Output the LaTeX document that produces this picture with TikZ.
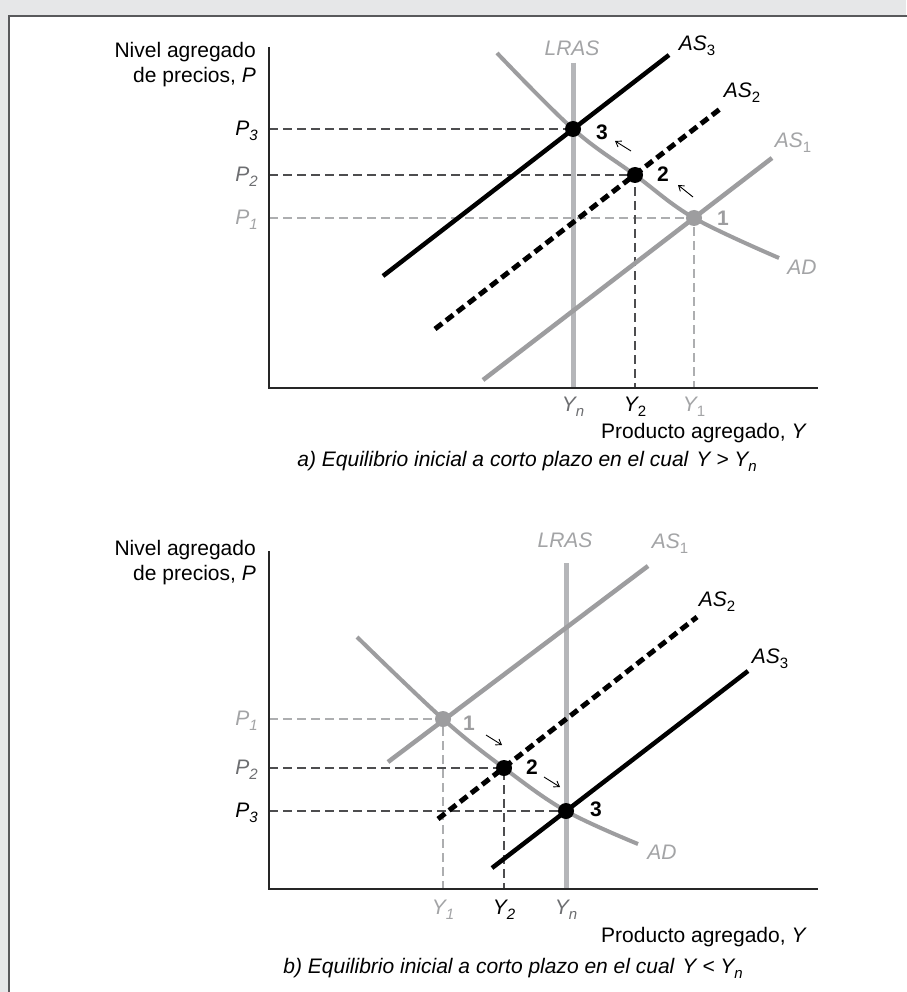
\documentclass[tikz,border=0pt]{standalone}
\usepackage{fontspec}
\setmainfont{Liberation Sans}
\usetikzlibrary{arrows.meta}
\definecolor{bggray}{HTML}{E6E7E8}
\definecolor{framecol}{HTML}{58595B}
\definecolor{lrascol}{HTML}{B5B6B9}
\definecolor{curvegray}{HTML}{9D9D9F}
\definecolor{lightlab}{HTML}{A3A4A6}
\definecolor{midlab}{HTML}{6D6E71}
\definecolor{darkguide}{HTML}{4D4D4F}
\definecolor{lightguide}{HTML}{ADAEB0}
\newcommand{\mysub}[1]{\raisebox{-5pt}{\fontsize{15}{15}\selectfont #1}}
\newcommand{\mysubup}[1]{\raisebox{-5pt}{\fontsize{15}{15}\selectfont\upshape #1}}
\tikzset{
  axisline/.style={draw=black!85, line width=1.6},
  guidedark/.style={draw=darkguide, line width=1.1, dash pattern=on 9 off 5},
  guidelight/.style={draw=lightguide, line width=1.1, dash pattern=on 9 off 5},
  lrasline/.style={draw=lrascol, line width=5},
  adline/.style={draw=curvegray, line width=4},
  asone/.style={draw=curvegray, line width=4.5},
  astwo/.style={draw=black, line width=5, dash pattern=on 9 off 5},
  asthree/.style={draw=black, line width=4.5},
  eqdot/.style={circle, fill=black, inner sep=0pt, minimum size=16},
  eqdotgray/.style={circle, fill=curvegray, inner sep=0pt, minimum size=16},
  smallarrow/.style={draw=black, line width=0.9, -{Straight Barb[length=5,width=7]}},
  lab/.style={inner sep=0pt, font=\fontsize{21}{25}\selectfont\itshape},
  numlab/.style={inner sep=0pt, font=\fontsize{21}{25}\selectfont\bfseries},
  plain/.style={inner sep=0pt, font=\fontsize{21}{25}\selectfont},
}
\begin{document}
\begin{tikzpicture}[x=1pt,y=-1pt]
\useasboundingbox (0,0) rectangle (906,992);
\fill[bggray] (0,0) rectangle (906,992);
\fill[white] (9,16) rectangle (906,992);
\draw[framecol, line width=2] (9,993) -- (9,16) -- (907,16);

% ================= Panel (a) =================
\coordinate (aTop) at (269,47);
\coordinate (aO) at (269,388);
\coordinate (aEnd) at (818,388);
\coordinate (a3) at (573,129);
\coordinate (a2) at (635,175);
\coordinate (a1) at (694,218);
\coordinate (aP3) at (269,129);
\coordinate (aP2) at (269,175);
\coordinate (aP1) at (269,218);
\coordinate (aY2) at (635,388);
\coordinate (aY1) at (694,388);
\coordinate (aLtop) at (573,63);
\coordinate (aLbot) at (573,388);

\draw[guidelight] (aP1) -- (a1) -- (aY1);
\draw[guidedark] (aP2) -- (a2) -- (aY2);
\draw[guidedark] (aP3) -- (a3);
\draw[lrasline] (aLtop) -- (aLbot);
\draw[adline] plot[smooth, tension=0.6] coordinates {(497,53) (573,129) (635,175) (694,218) (779,258)};
\coordinate (aS1a) at (483,380); \coordinate (aS1b) at (772,158);
\coordinate (aS2a) at (435,329); \coordinate (aS2b) at (720,109);
\coordinate (aS3a) at (383,276); \coordinate (aS3b) at (669,55);
\draw[asone] (aS1a) -- (aS1b);
\draw[astwo] (aS2a) -- (aS2b);
\draw[asthree] (aS3a) -- (aS3b);
\draw[axisline] (aTop) -- (aO) -- (aEnd);
\node[eqdot] (d3a) at (a3) {};
\node[eqdot] (d2a) at (a2) {};
\node[eqdotgray] (d1a) at (a1) {};

\coordinate (aArr3s) at (631,151); \coordinate (aArr3e) at (615,141);
\coordinate (aArr2s) at (693,197); \coordinate (aArr2e) at (678,185);
\draw[smallarrow] (aArr3s) -- (aArr3e);
\draw[smallarrow] (aArr2s) -- (aArr2e);

\node[numlab] (n3a) at (602,132) {3};
\node[numlab] (n2a) at (663,174) {2};
\node[numlab, text=curvegray] (n1a) at (723,218) {1};

\node[lab, text=lightlab] (lrasa) at (572,48) {LRAS};
\node[lab] (as3a) at (697,46) {AS\mysubup{3}};
\node[lab] (as2a) at (742,93) {AS\mysubup{2}};
\node[lab, text=lightlab] (as1a) at (793,143) {AS\mysubup{1}};
\node[lab, text=lightlab] (ada) at (802,267) {AD};

\node[lab, anchor=east] (p3a) at (258,131) {P\mysub{3}};
\node[lab, anchor=east, text=midlab] (p2a) at (258,177) {P\mysub{2}};
\node[lab, anchor=east, text=lightlab] (p1a) at (258,220) {P\mysub{1}};

\node[lab, text=midlab] (yna) at (573,407) {Y\mysub{n}};
\node[lab] (y2a) at (635,407) {Y\mysubup{2}};
\node[lab, text=lightlab] (y1a) at (694,407) {Y\mysubup{1}};

\node[plain, anchor=east, align=right] (nivela) at (256,64.5) {Nivel agregado\\de precios, \textit{P}};
\node[plain, anchor=east] (proda) at (807,433) {Producto agregado, \textit{Y}};
\node[lab, anchor=east] (capa) at (757,461) {a) Equilibrio inicial a corto plazo en el cual\hspace{8pt}Y {>} Y\mysub{n}};

% ================= Panel (b) =================
\coordinate (bTop) at (269,551);
\coordinate (bO) at (269,889);
\coordinate (bEnd) at (818,889);
\coordinate (b1) at (443,719);
\coordinate (b2) at (504,768);
\coordinate (b3) at (566,811);
\coordinate (bP1) at (269,719);
\coordinate (bP2) at (269,768);
\coordinate (bP3) at (269,811);
\coordinate (bY1) at (443,889);
\coordinate (bY2) at (504,889);
\coordinate (bLtop) at (566,563);
\coordinate (bLbot) at (566,889);

\draw[guidelight] (bP1) -- (b1) -- (bY1);
\draw[guidedark] (bP2) -- (b2) -- (bY2);
\draw[guidedark] (bP3) -- (b3);
\draw[lrasline] (bLtop) -- (bLbot);
\draw[adline] plot[smooth, tension=0.6] coordinates {(357,637) (443,719) (504,768) (566,811) (638,844)};
\coordinate (bS1a) at (388,762); \coordinate (bS1b) at (648,566);
\coordinate (bS2a) at (438,819); \coordinate (bS2b) at (697,617);
\coordinate (bS3a) at (492,868); \coordinate (bS3b) at (748,671);
\draw[asone] (bS1a) -- (bS1b);
\draw[astwo] (bS2a) -- (bS2b);
\draw[asthree] (bS3a) -- (bS3b);
\draw[axisline] (bTop) -- (bO) -- (bEnd);
\node[eqdotgray] (d1b) at (b1) {};
\node[eqdot] (d2b) at (b2) {};
\node[eqdot] (d3b) at (b3) {};

\coordinate (bArr1s) at (486,735); \coordinate (bArr1e) at (502,745);
\coordinate (bArr2s) at (544,777); \coordinate (bArr2e) at (560,787);
\draw[smallarrow] (bArr1s) -- (bArr1e);
\draw[smallarrow] (bArr2s) -- (bArr2e);

\node[numlab, text=curvegray] (n1b) at (469,723) {1};
\node[numlab] (n2b) at (532,767) {2};
\node[numlab] (n3b) at (596,809) {3};

\node[lab, text=lightlab] (lrasb) at (565,540) {LRAS};
\node[lab, text=lightlab] (as1b) at (670,544) {AS\mysubup{1}};
\node[lab] (as2b) at (717,602) {AS\mysubup{2}};
\node[lab] (as3b) at (770,659) {AS\mysubup{3}};
\node[lab, text=lightlab] (adb) at (662,852) {AD};

\node[lab, anchor=east, text=lightlab] (p1b) at (258,721) {P\mysub{1}};
\node[lab, anchor=east, text=midlab] (p2b) at (258,770) {P\mysub{2}};
\node[lab, anchor=east] (p3b) at (258,813) {P\mysub{3}};

\node[lab, text=lightlab] (y1b) at (443,910) {Y\mysub{1}};
\node[lab] (y2b) at (504,910) {Y\mysub{2}};
\node[lab, text=midlab] (ynb) at (566,910) {Y\mysub{n}};

\node[plain, anchor=east, align=right] (nivelb) at (256,563) {Nivel agregado\\de precios, \textit{P}};
\node[plain, anchor=east] (prodb) at (807,937) {Producto agregado, \textit{Y}};
\node[lab, anchor=east] (capb) at (743,968) {b) Equilibrio inicial a corto plazo en el cual\hspace{8pt}Y {<} Y\mysub{n}};
\end{tikzpicture}
\end{document}
